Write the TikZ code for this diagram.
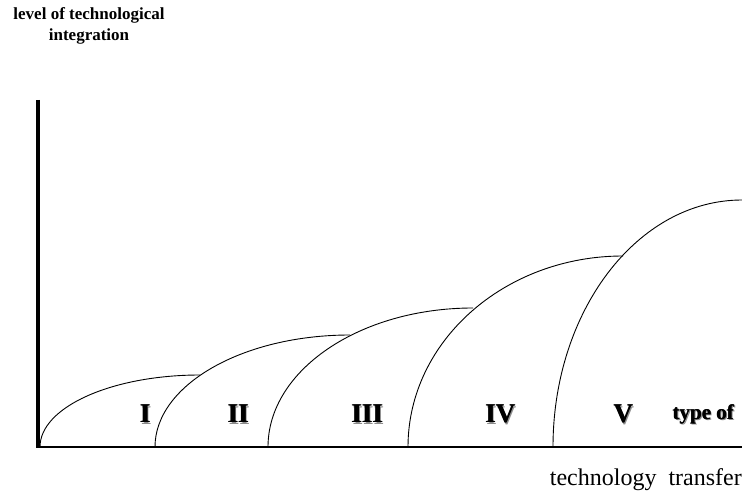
\documentclass[tikz,border=0pt]{standalone}
\usepackage{fontspec}
\setmainfont{Liberation Serif}
\begin{document}
\begin{tikzpicture}[x=1pt,y=-1pt,
  arcline/.style={line width=0.9pt},
  numeral/.style={font=\fontsize{27}{27}\selectfont\bfseries, inner sep=0pt},
  shadowtxt/.style={numeral, text=black!45},
  tagtxt/.style={font=\fontsize{21}{21}\selectfont\bfseries, inner sep=0pt},
  axistitle/.style={font=\fontsize{17}{21}\selectfont\bfseries, align=center, inner sep=0pt}]
\useasboundingbox (0,0) rectangle (742,502);

% axes
\draw[line width=3.2pt] (38,100) -- (38,448);
\draw[line width=1.2pt] (36.4,447) -- (742,447);

% nested quarter-ellipse phases (y axis points down, so 270 is straight up)
\draw[arcline] (40,447)  arc[start angle=180, end angle=270, x radius=160, y radius=72];
\draw[arcline] (155,447) arc[start angle=180, end angle=270, x radius=195, y radius=112];
\draw[arcline] (268,447) arc[start angle=180, end angle=270, x radius=205, y radius=139];
\draw[arcline] (408,447) arc[start angle=180, end angle=270, x radius=215, y radius=191];
\draw[arcline] (553,447) arc[start angle=180, end angle=270, x radius=189, y radius=247];

% phase numerals: heavy bold with a soft drop shadow
\foreach \px/\lab/\nm in {145/I/one, 238/II/two, 367/III/three, 500/IV/four, 623/V/five}{
  \node[shadowtxt] at (\px+1.4,415.4) {\lab};
  \node[numeral] at (\px+0.6,414) {\lab};
  \node[numeral] (ph\nm) at (\px,414) {\lab};
}
\node[tagtxt, text=black!45] at (704.4,415.4) {type of};
\node[tagtxt] at (703.5,414) {type of};
\node[tagtxt] (typeof) at (703,414) {type of};

% axis titles
\node[axistitle] (ylabel) at (89,26) {level of technological\\integration};
\node[font=\fontsize{24}{24}\selectfont, inner sep=0pt, anchor=east] (xlabel) at (742,480) {technology\ \ transfer};
\end{tikzpicture}
\end{document}
